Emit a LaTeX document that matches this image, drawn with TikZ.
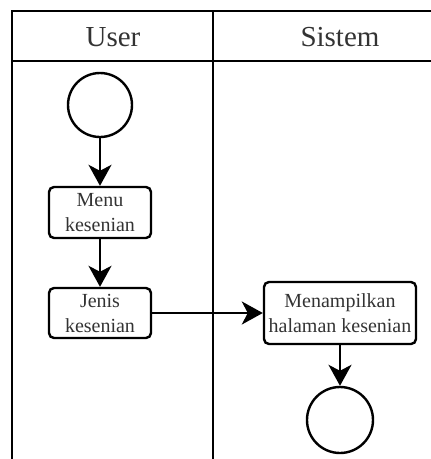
\documentclass[tikz,border=0pt]{standalone}
\usepackage{fontspec}
\setmainfont{Liberation Serif}
\usetikzlibrary{arrows.meta}
\definecolor{txt}{HTML}{333333}
\begin{document}
\begin{tikzpicture}[x=1pt,y=-1pt,
  lane/.style={line width=2.4pt,line cap=rect},
  lanehead/.style={text=txt,font=\fontsize{29}{32}\selectfont},
  act/.style={draw,line width=2.4pt,rounded corners=5pt,align=center,
    text=txt,font=\fontsize{20}{25}\selectfont,inner sep=0pt},
  terminal/.style={draw,circle,line width=2.4pt,inner sep=0pt},
  flow/.style={line width=2.4pt,-{Stealth[length=21pt,width=23pt,inset=6pt]}}]
\useasboundingbox (0,0) rectangle (431,459);
% swimlane frame
\coordinate (tl) at (12,11);
\coordinate (tr) at (431,11);
\coordinate (hl) at (12,61);
\coordinate (hr) at (431,61);
\coordinate (bl) at (12,459);
\coordinate (mt) at (213,11);
\coordinate (mb) at (213,459);
\draw[lane] (bl) -- (tl) -- (tr);
\draw[lane] (hl) -- (hr);
\draw[lane] (mt) -- (mb);
\node[lanehead] (huser) at (113,37) {User};
\node[lanehead] (hsys) at (340,37) {Sistem};
% activities
\node[terminal,minimum size=64pt] (start) at (100,105) {};
\node[act,minimum width=102pt,minimum height=51pt] (menu) at (100,212.5) {Menu\\kesenian};
\node[act,minimum width=102pt,minimum height=50pt] (jenis) at (100,313) {Jenis\\kesenian};
\node[act,minimum width=152pt,minimum height=62pt] (tampil) at (340,313) {Menampilkan\\halaman kesenian};
\node[terminal,minimum size=66pt] (end) at (340,420) {};
% control flow
\draw[flow] (start) -- (menu);
\draw[flow] (menu) -- (jenis);
\draw[flow] (jenis) -- (tampil);
\draw[flow] (tampil) -- (end);
\end{tikzpicture}
\end{document}
